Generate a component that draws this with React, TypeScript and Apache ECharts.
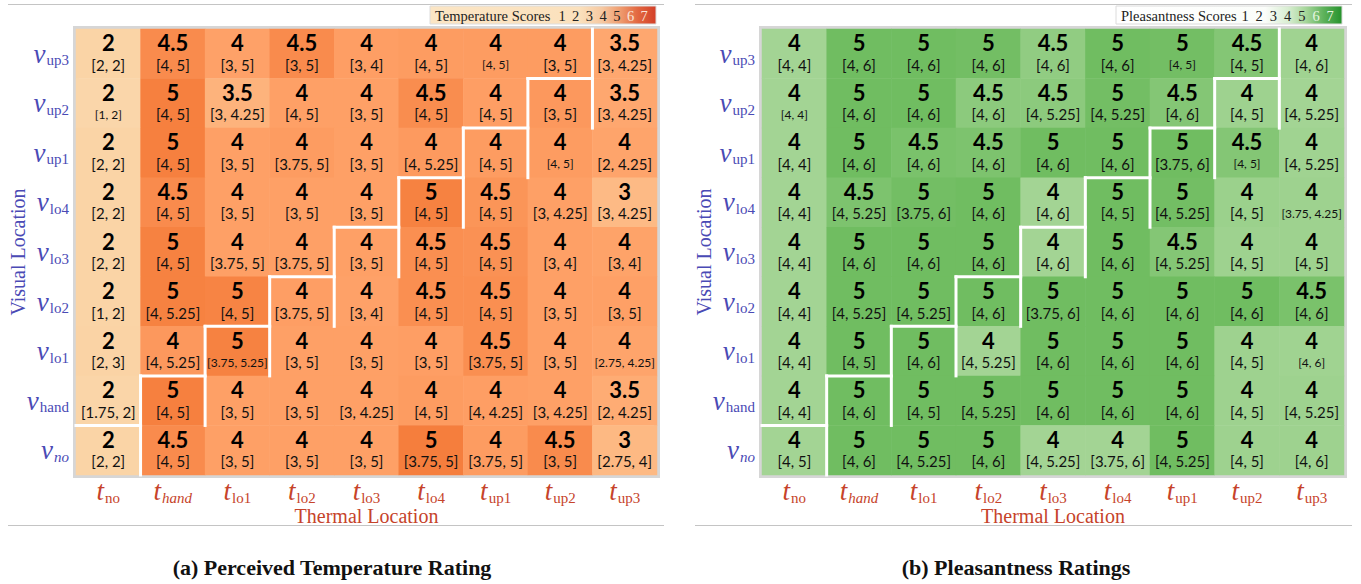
import React, { useEffect, useRef } from 'react';
import * as echarts from 'echarts';

// ---------- data ----------
const THERMAL = ['no', 'hand', 'lo1', 'lo2', 'lo3', 'lo4', 'up1', 'up2', 'up3'];
const VISUAL = ['up3', 'up2', 'up1', 'lo4', 'lo3', 'lo2', 'lo1', 'hand', 'no']; // top -> bottom
const THERMAL_ITALIC = ['hand'];
const VISUAL_ITALIC = ['no'];
const LEGEND_TICKS = [1, 2, 3, 4, 5, 6, 7];

// Perceived temperature (rows = VISUAL, cols = THERMAL)
const TEMP_MEDIAN = [
  [2, 4.5, 4, 4.5, 4, 4, 4, 4, 3.5],
  [2, 5, 3.5, 4, 4, 4.5, 4, 4, 3.5],
  [2, 5, 4, 4, 4, 4, 4, 4, 4],
  [2, 4.5, 4, 4, 4, 5, 4.5, 4, 3],
  [2, 5, 4, 4, 4, 4.5, 4.5, 4, 4],
  [2, 5, 5, 4, 4, 4.5, 4.5, 4, 4],
  [2, 4, 5, 4, 4, 4, 4.5, 4, 4],
  [2, 5, 4, 4, 4, 4, 4, 4, 3.5],
  [2, 4.5, 4, 4, 4, 5, 4, 4.5, 3],
];
const TEMP_Q1 = [
  [2, 4, 3, 3, 3, 4, 4, 3, 3],
  [1, 4, 3, 4, 3, 4, 4, 3, 3],
  [2, 4, 3, 3.75, 3, 4, 4, 4, 2],
  [2, 4, 3, 3, 3, 4, 4, 3, 3],
  [2, 4, 3.75, 3.75, 3, 4, 4, 3, 3],
  [1, 4, 4, 3.75, 3, 4, 4, 3, 3],
  [2, 4, 3.75, 3, 3, 3, 3.75, 3, 2.75],
  [1.75, 4, 3, 3, 3, 4, 4, 3, 2],
  [2, 4, 3, 3, 3, 3.75, 3.75, 3, 2.75],
];
const TEMP_Q3 = [
  [2, 5, 5, 5, 4, 5, 5, 5, 4.25],
  [2, 5, 4.25, 5, 5, 5, 5, 5, 4.25],
  [2, 5, 5, 5, 5, 5.25, 5, 5, 4.25],
  [2, 5, 5, 5, 5, 5, 5, 4.25, 4.25],
  [2, 5, 5, 5, 5, 5, 5, 4, 4],
  [2, 5.25, 5, 5, 4, 5, 5, 5, 5],
  [3, 5.25, 5.25, 5, 5, 5, 5, 5, 4.25],
  [2, 5, 5, 5, 4.25, 5, 4.25, 4.25, 4.25],
  [2, 5, 5, 5, 5, 5, 5, 5, 4],
];
// colour level (estimated mean score) read from cell shading
const TEMP_SHADE = [
  [2.0, 4.55, 3.95, 4.55, 4.05, 4.1, 4.1, 4.1, 3.75],
  [1.9, 4.85, 3.35, 4.0, 4.0, 4.5, 4.05, 4.2, 3.75],
  [2.0, 4.85, 4.0, 4.1, 4.0, 4.15, 4.1, 4.1, 3.85],
  [2.0, 4.55, 4.0, 4.0, 4.0, 4.8, 4.3, 4.0, 3.1],
  [2.0, 4.8, 4.0, 4.0, 4.0, 4.45, 4.4, 4.0, 3.9],
  [2.0, 4.8, 4.75, 4.05, 3.95, 4.45, 4.45, 4.0, 4.0],
  [2.05, 4.2, 4.8, 4.0, 4.0, 4.05, 4.45, 4.0, 3.85],
  [1.95, 4.85, 4.0, 4.0, 4.0, 4.1, 4.05, 4.0, 3.6],
  [2.0, 4.55, 4.0, 4.0, 4.0, 4.9, 4.1, 4.55, 3.15],
];

// Pleasantness (rows = VISUAL, cols = THERMAL)
const PLEAS_MEDIAN = [
  [4, 5, 5, 5, 4.5, 5, 5, 4.5, 4],
  [4, 5, 5, 4.5, 4.5, 5, 4.5, 4, 4],
  [4, 5, 4.5, 4.5, 5, 5, 5, 4.5, 4],
  [4, 4.5, 5, 5, 4, 5, 5, 4, 4],
  [4, 5, 5, 5, 4, 5, 4.5, 4, 4],
  [4, 5, 5, 5, 5, 5, 5, 5, 4.5],
  [4, 5, 5, 4, 5, 5, 5, 4, 4],
  [4, 5, 5, 5, 5, 5, 5, 4, 4],
  [4, 5, 5, 5, 4, 4, 5, 4, 4],
];
const PLEAS_Q1 = [
  [4, 4, 4, 4, 4, 4, 4, 4, 4],
  [4, 4, 4, 4, 4, 4, 4, 4, 4],
  [4, 4, 4, 4, 4, 4, 3.75, 4, 4],
  [4, 4, 3.75, 4, 4, 4, 4, 4, 3.75],
  [4, 4, 4, 4, 4, 4, 4, 4, 4],
  [4, 4, 4, 4, 3.75, 4, 4, 4, 4],
  [4, 4, 4, 4, 4, 4, 4, 4, 4],
  [4, 4, 4, 4, 4, 4, 4, 4, 4],
  [4, 4, 4, 4, 4, 3.75, 4, 4, 4],
];
const PLEAS_Q3 = [
  [4, 6, 6, 6, 6, 6, 5, 5, 6],
  [4, 6, 6, 6, 5.25, 5.25, 6, 5, 5.25],
  [4, 6, 6, 6, 6, 6, 6, 5, 5.25],
  [4, 5.25, 6, 6, 6, 5, 5.25, 5, 4.25],
  [4, 6, 6, 6, 6, 6, 5.25, 5, 5],
  [4, 5.25, 5.25, 6, 6, 6, 6, 6, 6],
  [4, 5, 6, 5.25, 6, 6, 6, 5, 6],
  [4, 6, 5, 5.25, 6, 6, 6, 5, 5.25],
  [5, 6, 5.25, 6, 5.25, 6, 5.25, 5, 6],
];
const PLEAS_SHADE = [
  [4.0, 5.0, 5.0, 4.95, 4.35, 5.0, 4.95, 4.6, 4.05],
  [4.0, 5.0, 5.0, 4.45, 4.45, 4.95, 4.6, 4.1, 4.0],
  [4.0, 5.0, 4.8, 4.75, 5.0, 5.0, 5.0, 4.6, 4.05],
  [4.0, 4.75, 4.95, 5.0, 4.0, 5.0, 4.95, 4.15, 4.1],
  [4.0, 5.0, 5.0, 5.0, 4.0, 5.0, 4.6, 4.1, 4.1],
  [4.0, 5.0, 5.0, 5.0, 5.0, 5.0, 5.0, 5.0, 4.8],
  [4.0, 5.0, 5.0, 4.0, 5.0, 5.0, 5.0, 4.1, 4.05],
  [4.0, 5.0, 5.0, 5.0, 5.0, 5.0, 5.0, 4.1, 4.1],
  [4.0, 5.0, 5.0, 5.0, 4.0, 4.0, 5.0, 4.1, 4.1],
];

// cells whose IQR is printed in a smaller font: [visual, thermal]
const SMALL_IQR_TEMP = [['up3', 'up1'], ['up2', 'no'], ['up1', 'up2'], ['lo1', 'lo1'], ['lo1', 'up3']];
const SMALL_IQR_PLEAS = [['up3', 'up1'], ['up2', 'no'], ['up1', 'up2'], ['lo4', 'up3'], ['lo1', 'up3']];

// ---------- style ----------
const VCOL = '#4a4ab5';
const TCOL = '#c6432a';
const SERIF = '"Liberation Serif", "DejaVu Serif", serif';
const SANS = 'Lato, "Open Sans", sans-serif';
const TEMP_COLORS = ['#fde9d0', '#fad4a6', '#fdbd88', '#fea066', '#f47a38', '#e65a2e', '#d63a22'];
const PLEAS_COLORS = ['#f4faf2', '#e0f0da', '#c4e4b9', '#a3d494', '#70bd61', '#44a544', '#2a922e'];

function buildHeat(median: number[][], q1: number[][], q3: number[][], shade: number[][], small: string[][]) {
  const out: any[] = [];
  VISUAL.forEach((v, yi) => {
    THERMAL.forEach((t, xi) => {
      const isSmall = small.some((s) => s[0] === v && s[1] === t);
      out.push({ value: [xi, yi, shade[yi][xi], median[yi][xi], q1[yi][xi], q3[yi][xi]], small: isSmall });
    });
  });
  return out;
}

function axisRich(color: string) {
  return {
    m: { fontFamily: SERIF, fontStyle: 'italic', fontSize: 27, color, lineHeight: 26 },
    s: { fontFamily: SERIF, fontSize: 15, color, lineHeight: 14, padding: [13, 0, 0, 1] },
    si: { fontFamily: SERIF, fontStyle: 'italic', fontSize: 15, color, lineHeight: 14, padding: [13, 0, 0, 1] },
  };
}

const cellRich = {
  m: { fontFamily: SANS, fontWeight: 'bold', fontSize: 22, lineHeight: 22, color: '#000' },
  q: { fontFamily: SANS, fontSize: 15, lineHeight: 22, color: '#111' },
  qs: { fontFamily: SANS, fontSize: 12, lineHeight: 22, color: '#111' },
};

function stairData() {
  return THERMAL.map((t, xi) => [xi, VISUAL.indexOf(t)]);
}

function stairRender(params: any, api: any) {
  if (params.dataIndex === THERMAL.length - 1) return { type: 'group', children: [] };
  const c = api.coord([api.value(0), api.value(1)]);
  const s = api.size([1, 1]);
  const w = s[0];
  const h = s[1];
  const left = c[0] - w / 2;
  const right = c[0] + w / 2;
  const top = c[1] - h / 2;
  const bottom = c[1] + h / 2;
  const style = { stroke: '#ffffff', lineWidth: 3, lineCap: 'square' };
  return {
    type: 'group',
    children: [
      { type: 'line', shape: { x1: left, y1: top, x2: right, y2: top }, style },
      { type: 'line', shape: { x1: right, y1: bottom, x2: right, y2: top - h }, style },
    ],
  };
}

function panel(gi: number, xName: string, yName: string) {
  const xAxis = {
    type: 'category',
    gridIndex: gi,
    data: THERMAL,
    axisLine: { show: false },
    axisTick: { show: false },
    splitLine: { show: false },
    axisLabel: {
      interval: 0,
      margin: 3,
      formatter: (val: string) => `{m|t}{${THERMAL_ITALIC.includes(val) ? 'si' : 's'}|${val}}`,
      rich: axisRich(TCOL),
    },
    name: xName,
    nameLocation: 'middle',
    nameGap: 31,
    nameMoveOverlap: false,
    nameTextStyle: { fontFamily: SERIF, fontSize: 20, color: TCOL },
  };
  const yAxis = {
    type: 'category',
    gridIndex: gi,
    data: VISUAL,
    inverse: true,
    axisLine: { show: false },
    axisTick: { show: false },
    splitLine: { show: false },
    axisLabel: {
      interval: 0,
      margin: 7,
      formatter: (val: string) => `{m|v}{${VISUAL_ITALIC.includes(val) ? 'si' : 's'}|${val}}`,
      rich: axisRich(VCOL),
    },
    name: yName,
    nameLocation: 'middle',
    nameRotate: 90,
    nameGap: 48,
    nameMoveOverlap: false,
    nameTextStyle: { fontFamily: SERIF, fontSize: 20, color: VCOL },
  };
  return { xAxis, yAxis };
}

function heatSeries(gi: number, data: any[]) {
  return {
    type: 'heatmap',
    xAxisIndex: gi,
    yAxisIndex: gi,
    data,
    itemStyle: { borderWidth: 0 },
    emphasis: { disabled: true },
    label: {
      show: true,
      formatter: (p: any) => {
        const v = p.data.value;
        return `{m|${v[3]}}\n{${p.data.small ? 'qs' : 'q'}|[${v[4]}, ${v[5]}]}`;
      },
      rich: cellRich,
    },
  };
}

function stairSeries(gi: number) {
  return {
    type: 'custom',
    xAxisIndex: gi,
    yAxisIndex: gi,
    coordinateSystem: 'cartesian2d',
    data: stairData(),
    renderItem: stairRender,
    z: 5,
    silent: true,
  };
}

function legend(x: number, w: number, title: string, stops: any[], tickX0: number, tickStep: number, darkCol: string, lightCol: string) {
  const children: any[] = [
    {
      type: 'rect',
      shape: { x, y: 6, width: w, height: 18 },
      style: { fill: new echarts.graphic.LinearGradient(0, 0, 1, 0, stops), stroke: '#dcdcdc', lineWidth: 1 },
    },
    {
      type: 'text',
      x: x + 5,
      y: 15.5,
      style: { text: title, fontFamily: SERIF, fontSize: 14.5, fill: darkCol, verticalAlign: 'middle', textAlign: 'left' },
    },
  ];
  LEGEND_TICKS.forEach((t, i) => {
    children.push({
      type: 'text',
      x: tickX0 + i * tickStep,
      y: 15.5,
      style: { text: String(t), fontFamily: SERIF, fontSize: 14.5, fill: t >= 6 ? lightCol : darkCol, verticalAlign: 'middle', textAlign: 'center' },
    });
  });
  return { type: 'group', children };
}

export default function App() {
  const ref = useRef<HTMLDivElement>(null);
  useEffect(() => {
    if (!ref.current) return;
    const chart = echarts.init(ref.current, undefined, { renderer: 'svg' });
    const p0 = panel(0, 'Thermal Location', 'Visual Location');
    const p1 = panel(1, 'Thermal Location', 'Visual Location');
    const gridStyle = { show: true, borderColor: '#d6d6d6', borderWidth: 6, backgroundColor: 'transparent' };
    const rule = (x1: number, x2: number, y: number) => ({
      type: 'line',
      shape: { x1, y1: y, x2, y2: y },
      style: { stroke: '#c4c4c4', lineWidth: 1 },
    });
    const caption = (x: number, text: string) => ({
      type: 'text',
      x,
      y: 567,
      style: { text, fontFamily: SERIF, fontWeight: 'bold', fontSize: 22, fill: '#111', textAlign: 'center', verticalAlign: 'middle' },
    });
    chart.setOption({
      animation: false,
      backgroundColor: '#ffffff',
      grid: [
        { left: 76, top: 29, width: 581, height: 446, ...gridStyle },
        { left: 762, top: 29, width: 582, height: 446, ...gridStyle },
      ],
      xAxis: [p0.xAxis, p1.xAxis],
      yAxis: [p0.yAxis, p1.yAxis],
      visualMap: [
        { type: 'continuous', show: false, min: 1, max: 7, dimension: 2, seriesIndex: 0, inRange: { color: TEMP_COLORS } },
        { type: 'continuous', show: false, min: 1, max: 7, dimension: 2, seriesIndex: 2, inRange: { color: PLEAS_COLORS } },
      ],
      series: [
        heatSeries(0, buildHeat(TEMP_MEDIAN, TEMP_Q1, TEMP_Q3, TEMP_SHADE, SMALL_IQR_TEMP)),
        stairSeries(0),
        heatSeries(1, buildHeat(PLEAS_MEDIAN, PLEAS_Q1, PLEAS_Q3, PLEAS_SHADE, SMALL_IQR_PLEAS)),
        stairSeries(1),
      ],
      graphic: [
        rule(8, 664, 4.5),
        rule(695, 1352, 4.5),
        rule(8, 664, 525.5),
        rule(695, 1352, 525.5),
        legend(430, 226, 'Temperature Scores',
          [
            { offset: 0, color: '#fbe5c4' },
            { offset: 0.66, color: '#fbe1bd' },
            { offset: 0.76, color: '#f6c9a2' },
            { offset: 0.84, color: '#ef9d70' },
            { offset: 0.92, color: '#e26740' },
            { offset: 1, color: '#d33f28' },
          ], 562, 13.7, '#222', '#fbe3d6'),
        legend(1116, 226, 'Pleasantness Scores',
          [
            { offset: 0, color: '#ffffff' },
            { offset: 0.66, color: '#fbfdfa' },
            { offset: 0.76, color: '#d9eed2' },
            { offset: 0.84, color: '#a6d69a' },
            { offset: 0.92, color: '#5db15a' },
            { offset: 1, color: '#25922b' },
          ], 1245, 14.2, '#222', '#e6f5e0'),
        caption(332, '(a) Perceived Temperature Rating'),
        caption(1016, '(b) Pleasantness Ratings'),
      ],
    });
    return () => chart.dispose();
  }, []);
  return (
    <div
      ref={ref}
      style={{ position: 'fixed', left: 0, top: 0, width: 1361, height: 584, background: '#ffffff' }}
    />
  );
}
